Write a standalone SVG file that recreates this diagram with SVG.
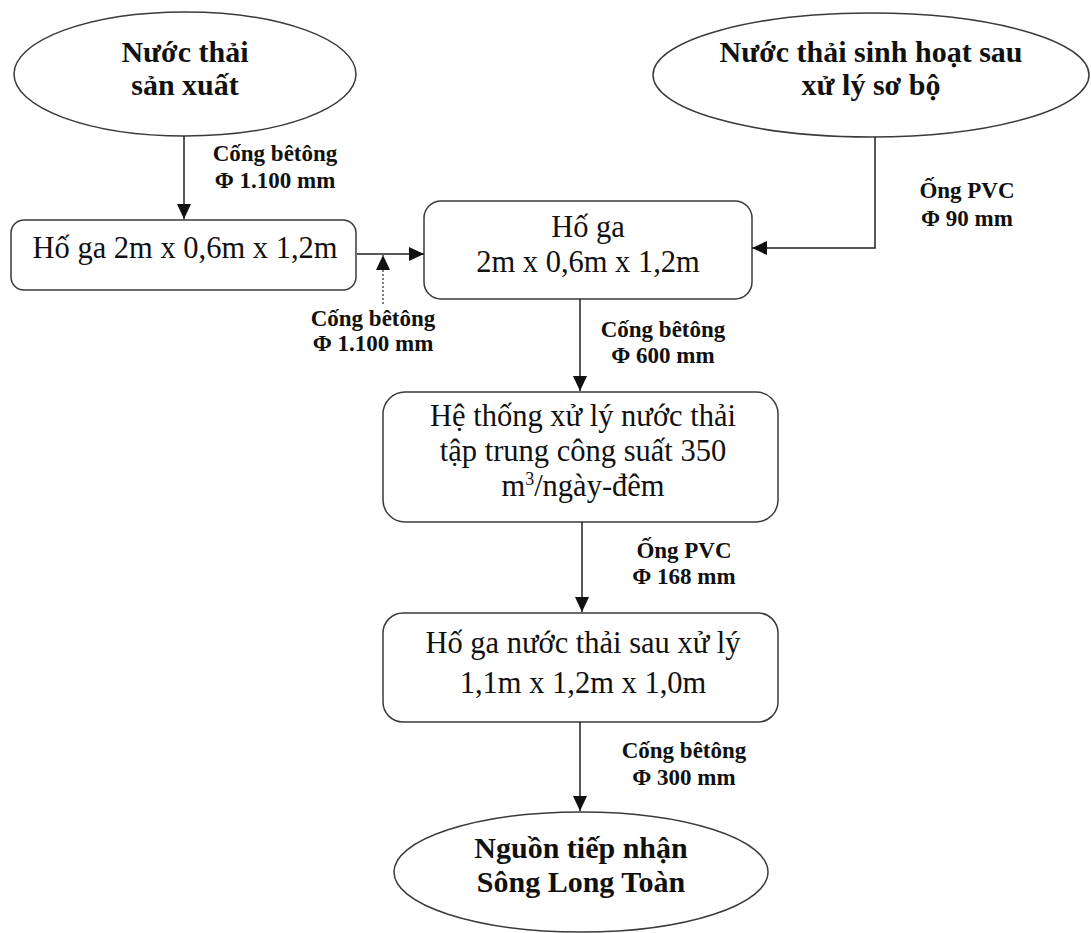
<svg xmlns="http://www.w3.org/2000/svg" width="1091" height="933" viewBox="0 0 1091 933">
  <style>
    .shape { fill: #ffffff; stroke: #3a3a3a; stroke-width: 1.5; }
    .title { font-family: "Liberation Serif", "Times New Roman", serif; font-weight: bold; font-size: 30px; fill: #111; text-anchor: middle; }
    .body { font-family: "Liberation Serif", "Times New Roman", serif; font-size: 30.5px; fill: #111; text-anchor: middle; }
    .label { font-family: "Liberation Serif", "Times New Roman", serif; font-weight: bold; font-size: 23px; fill: #111; text-anchor: middle; }
    .wire { fill: none; stroke: #222; stroke-width: 1.5; }
    .dotted { fill: none; stroke: #555; stroke-width: 1.5; stroke-dasharray: 2 2; }
  </style>
  <defs>
    <marker id="arrow" markerUnits="userSpaceOnUse" markerWidth="16" markerHeight="14" refX="15" refY="7" orient="auto">
      <path d="M0,0 L15,7 L0,14 Z" fill="#111"/>
    </marker>
  </defs>

  <rect width="1091" height="933" fill="#ffffff"/>

  <!-- sources -->
  <g id="node-production">
    <ellipse class="shape" cx="185" cy="74" rx="171" ry="62"/>
    <text class="title" x="185" y="62">Nước thải</text>
    <text class="title" x="185" y="95">sản xuất</text>
  </g>
  <g id="node-domestic">
    <ellipse class="shape" cx="871" cy="75" rx="218" ry="62"/>
    <text class="title" x="871" y="62">Nước thải sinh hoạt sau</text>
    <text class="title" x="871" y="95">xử lý sơ bộ</text>
  </g>

  <!-- manholes and treatment -->
  <g id="node-manhole-1">
    <rect class="shape" x="11" y="220" width="345" height="70" rx="13"/>
    <text class="body" x="185" y="258">Hố ga 2m x 0,6m x 1,2m</text>
  </g>
  <g id="node-manhole-2">
    <rect class="shape" x="424" y="201" width="328" height="98" rx="17"/>
    <text class="body" x="588" y="237">Hố ga</text>
    <text class="body" x="588" y="272">2m x 0,6m x 1,2m</text>
  </g>
  <g id="node-treatment">
    <rect class="shape" x="383" y="392" width="395" height="130" rx="22"/>
    <text class="body" x="583" y="426">Hệ thống xử lý nước thải</text>
    <text class="body" x="583" y="461">tập trung công suất 350</text>
    <text class="body" x="583" y="496">m<tspan font-size="18" dy="-11">3</tspan><tspan dy="11">/ngày-đêm</tspan></text>
  </g>
  <g id="node-manhole-3">
    <rect class="shape" x="383" y="613" width="395" height="109" rx="20"/>
    <text class="body" x="583" y="653">Hố ga nước thải sau xử lý</text>
    <text class="body" x="583" y="693">1,1m x 1,2m x 1,0m</text>
  </g>

  <!-- receiving water -->
  <g id="node-river">
    <ellipse class="shape" cx="581" cy="872" rx="187" ry="60"/>
    <text class="title" x="581" y="858">Nguồn tiếp nhận</text>
    <text class="title" x="581" y="892">Sông Long Toàn</text>
  </g>

  <!-- pipes -->
  <g id="connectors">
    <line class="wire" x1="184" y1="136" x2="184" y2="219" marker-end="url(#arrow)"/>
    <line class="wire" x1="357" y1="254" x2="424" y2="254" marker-end="url(#arrow)"/>
    <line class="dotted" x1="383" y1="304" x2="383" y2="255" marker-end="url(#arrow)"/>
    <polyline class="wire" points="875,137 875,248 752,248" marker-end="url(#arrow)"/>
    <line class="wire" x1="580" y1="299" x2="580" y2="391" marker-end="url(#arrow)"/>
    <line class="wire" x1="582" y1="522" x2="582" y2="612" marker-end="url(#arrow)"/>
    <line class="wire" x1="580" y1="722" x2="580" y2="811" marker-end="url(#arrow)"/>
  </g>

  <!-- pipe labels -->
  <g id="labels">
    <text class="label" x="275" y="161">Cống bêtông</text>
    <text class="label" x="275" y="188">Φ 1.100 mm</text>
    <text class="label" x="967" y="198">Ống PVC</text>
    <text class="label" x="967" y="226">Φ 90 mm</text>
    <text class="label" x="373" y="326">Cống bêtông</text>
    <text class="label" x="373" y="351">Φ 1.100 mm</text>
    <text class="label" x="663" y="337">Cống bêtông</text>
    <text class="label" x="663" y="363">Φ 600 mm</text>
    <text class="label" x="684" y="558">Ống PVC</text>
    <text class="label" x="684" y="584">Φ 168 mm</text>
    <text class="label" x="684" y="758">Cống bêtông</text>
    <text class="label" x="684" y="785">Φ 300 mm</text>
  </g>
</svg>
